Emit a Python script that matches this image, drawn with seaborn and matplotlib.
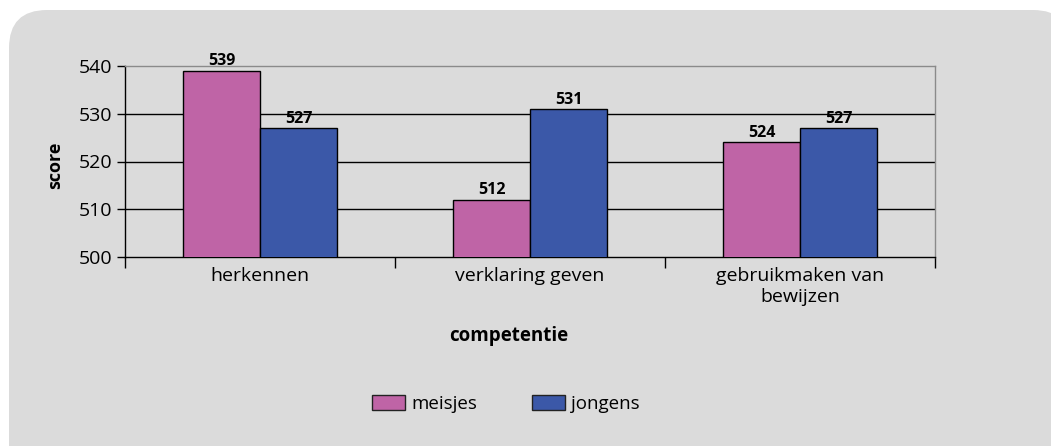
import matplotlib
matplotlib.use("Agg")
import matplotlib.pyplot as plt
import seaborn as sns
import pandas as pd
from matplotlib.patches import FancyBboxPatch, Patch
from matplotlib.transforms import IdentityTransform
from matplotlib.ticker import FixedLocator

categories = ["herkennen", "verklaring geven", "gebruikmaken van\nbewijzen"]
groups = ["meisjes", "jongens"]
meisjes = [539, 512, 524]
jongens = [527, 531, 527]
yticks = [500, 510, 520, 530, 540]

colors = {"meisjes": "#BF64A6", "jongens": "#3B58A8"}
panel_color = "#DBDBDB"

df = pd.DataFrame({
    "competentie": categories * 2,
    "groep": ["meisjes"] * 3 + ["jongens"] * 3,
    "score": meisjes + jongens,
})

sns.set_theme(style="white")
plt.rcParams["font.family"] = ["Open Sans", "DejaVu Sans"]
plt.rcParams["text.color"] = "black"
plt.rcParams["xtick.color"] = "black"
plt.rcParams["ytick.color"] = "black"

W, H, DPI = 1051, 446, 100
fig = plt.figure(figsize=(W / DPI, H / DPI), dpi=DPI, facecolor="white")

panel = FancyBboxPatch((9, -40), 1062, 476, boxstyle="round,pad=0,rounding_size=38",
                       transform=IdentityTransform(), facecolor=panel_color,
                       edgecolor="none", zorder=-10)
fig.patches.append(panel)

ax = fig.add_axes([125 / W, 1 - 257 / H, (935 - 125) / W, (257 - 66) / H])
ax.set_zorder(1)
ax.set_facecolor(panel_color)

sns.barplot(data=df, x="competentie", y="score", hue="groep", hue_order=groups,
            order=categories, palette=colors, width=0.57, edgecolor="black",
            linewidth=1, saturation=1, ax=ax, legend=False, zorder=3)

ax.set_ylim(500, 540)
ax.set_xlim(-0.5, 2.5)
ax.set_yticks(yticks)
ax.set_yticklabels([str(v) for v in yticks], fontsize=14, color="black")
for v in yticks[1:-1]:
    ax.axhline(v, color="black", lw=1, zorder=1)

ax.set_xticks(range(3))
ax.set_xticklabels(categories, fontsize=14, linespacing=1.25, color="black")
ax.xaxis.set_minor_locator(FixedLocator([-0.5, 0.5, 1.5, 2.5]))
ax.tick_params(axis="x", which="major", length=0, pad=7)
ax.tick_params(axis="x", which="minor", length=8, width=1, color="black",
               direction="out", bottom=True)
ax.tick_params(axis="y", length=6, width=1, color="black", direction="out", pad=3,
               left=True)

for s in ["left", "bottom"]:
    ax.spines[s].set_color("black")
    ax.spines[s].set_linewidth(1)
for s in ["top", "right"]:
    ax.spines[s].set_visible(True)
    ax.spines[s].set_color("#8A8A8A")
    ax.spines[s].set_linewidth(1)

for cont in ax.containers:
    ax.bar_label(cont, labels=[f"{int(v)}" for v in cont.datavalues],
                 padding=1, fontsize=11.5, fontweight="bold", color="black")

ax.set_xlabel("")
ax.set_ylabel("")
fig.text(55 / W, 1 - 165 / H, "score", rotation=90, ha="center", va="center",
         fontsize=13, fontweight="bold", color="black")
fig.text(509 / W, 1 - 336 / H, "competentie", ha="center", va="center",
         fontsize=13.5, fontweight="bold", color="black")

handles = [Patch(facecolor=colors[g], edgecolor="#222222", linewidth=1) for g in groups]
fig.legend(handles, groups, loc="center", bbox_to_anchor=(506 / W, 1 - 404 / H),
           ncol=2, frameon=False, fontsize=13.5, handlelength=1.75, handleheight=0.8,
           handletextpad=0.35, columnspacing=2.9, labelcolor="black")

fig.savefig("out.png", dpi=DPI, facecolor="white")
